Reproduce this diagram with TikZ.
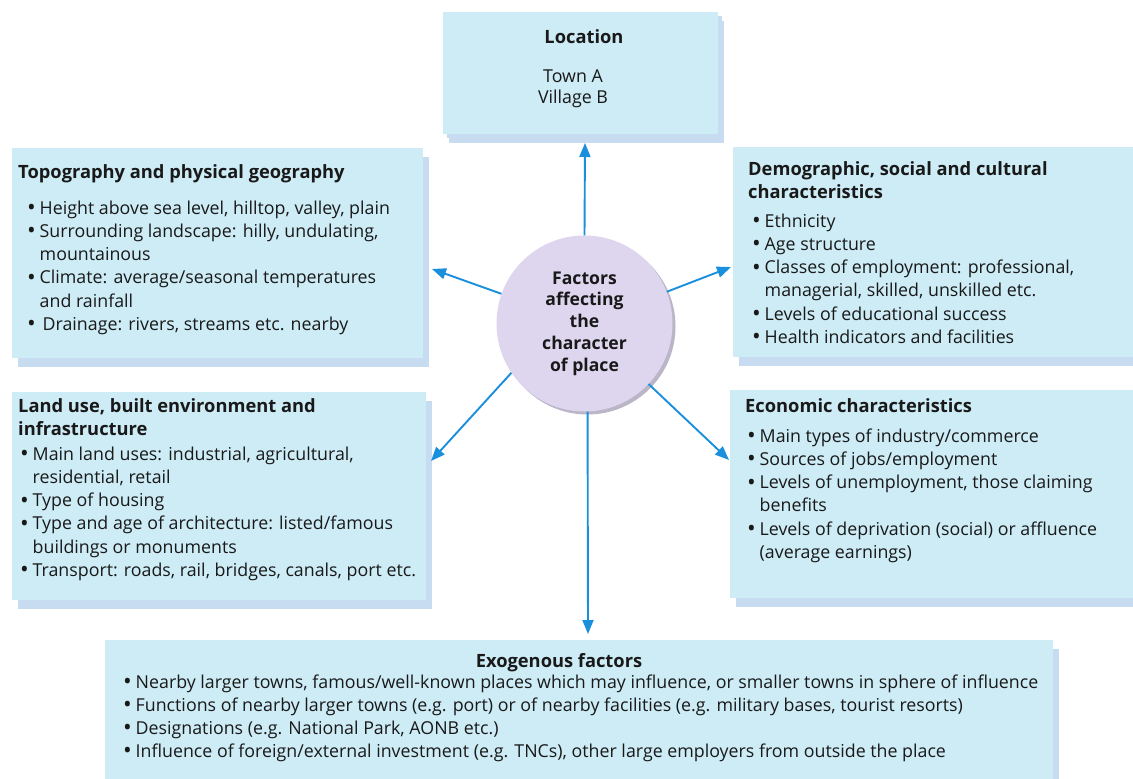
\documentclass[tikz,border=0pt]{standalone}
\usepackage{fontspec}
\setmainfont{Open Sans}
\usetikzlibrary{arrows.meta,shadows}

\definecolor{boxfill}{RGB}{205,236,246}
\definecolor{boxshade}{RGB}{200,220,241}
\definecolor{arrowblue}{RGB}{26,143,222}
\definecolor{discfill}{RGB}{221,214,238}
\definecolor{discshade}{RGB}{186,182,200}
\definecolor{ink}{RGB}{25,25,25}

% bullet with hanging indent for wrapped lines
\newcommand\bul{\makebox[12.5pt][l]{\raisebox{-1.4pt}{\scalebox{1.3}{\textbullet}}}}
\newcommand\ind{\hspace*{12.5pt}}
% fixed first-line height so that node tops sit 15pt above the first baseline
\newcommand\tp{\rule{0pt}{15pt}}

\begin{document}
\begin{tikzpicture}[x=1pt,y=-1pt,
  panel/.style={fill=boxfill, draw=none, rectangle, inner sep=0pt, anchor=north west,
    drop shadow={shadow xshift=6pt, shadow yshift=-9pt, fill=boxshade, opacity=1}},
  txt/.style={inner sep=0pt, anchor=north west, align=left, text=ink,
    font=\fontsize{17.8}{23.2}\selectfont},
  ttl/.style={inner sep=0pt, anchor=north west, align=left, text=ink,
    font=\bfseries\fontsize{18.3}{23}\selectfont},
  arr/.style={draw=arrowblue, line width=1.9pt, -{Triangle[length=14pt,width=11pt]}}
]
\useasboundingbox (0,0) rectangle (1133,779);
\fill[white] (0,0) rectangle (1133,779);

% panels
\node[panel, minimum width=275pt, minimum height=122pt,
  drop shadow={shadow xshift=4pt, shadow yshift=-4pt, fill=boxshade, opacity=1}] (loc) at (443,12) {};
\node[panel, minimum width=411pt, minimum height=210pt] (topo) at (12,148) {};
\node[panel, minimum width=410pt, minimum height=210pt] (demo) at (733,147) {};
\node[panel, minimum width=414pt, minimum height=208pt] (land) at (12,392) {};
\node[panel, minimum width=410pt, minimum height=208pt] (econ) at (730,390) {};
\node[panel, minimum width=948pt, minimum height=150pt] (exo) at (105,640) {};

% central disc
\node[circle, minimum size=176pt, inner sep=0pt, fill=discfill, align=center, text=ink,
  font=\bfseries\fontsize{17.6}{21.7}\selectfont,
  drop shadow={shadow xshift=3pt, shadow yshift=-3pt, fill=discshade, opacity=1}]
  (hub) at (584.5,323.5) {Factors\\affecting\\the\\character\\of place};

% arrows from the disc to the panels
\coordinate (a-up) at (585,143);
\coordinate (a-lu) at (432,269);
\coordinate (a-ru) at (731,267);
\coordinate (a-ld) at (431,461);
\coordinate (a-rd) at (729,460);
\coordinate (a-dn) at (588,634);
\draw[arr] (hub.north) -- (a-up);
\draw[arr] (hub) -- (a-lu);
\draw[arr] (hub) -- (a-ru);
\draw[arr] (hub.214.5) -- (a-ld);
\draw[arr] (hub) -- (a-rd);
\draw[arr] (hub.272) -- (a-dn);

% Location
\node[ttl, anchor=base] (loc-h) at (584,43) {Location};
\node[txt, anchor=north, align=center, font=\fontsize{17.8}{21}\selectfont] (loc-l) at (573,67)
  {\tp Town A\\Village B};

% Topography and physical geography
\node[ttl, anchor=base west] (topo-h) at (18,178) {Topography and physical geography};
\node[txt] (topo-l) at (27,199) {\tp\bul Height above sea level, hilltop, valley, plain\\
  \bul Surrounding landscape: hilly, undulating,\\
  \ind mountainous\\
  \bul Climate: average/seasonal temperatures\\
  \ind and rainfall\\
  \bul\hspace{3pt}Drainage: rivers, streams etc. nearby};

% Demographic, social and cultural characteristics
\node[ttl] (demo-h) at (748,160) {\tp Demographic, social and cultural\\characteristics};
\node[txt] (demo-l) at (752,212) {\tp\bul Ethnicity\\
  \bul Age structure\\
  \bul Classes of employment: professional,\\
  \ind managerial, skilled, unskilled etc.\\
  \bul Levels of educational success\\
  \bul Health indicators and facilities};

% Land use, built environment and infrastructure
\node[ttl] (land-h) at (18,397) {\tp Land use, built environment and\\infrastructure};
\node[txt] (land-l) at (20,445) {\tp\bul Main land uses: industrial, agricultural,\\
  \ind residential, retail\\
  \bul Type of housing\\
  \bul Type and age of architecture: listed/famous\\
  \ind buildings or monuments\\
  \bul Transport: roads, rail, bridges, canals, port etc.};

% Economic characteristics
\node[ttl, anchor=base west] (econ-h) at (745,412) {Economic characteristics};
\node[txt] (econ-l) at (747,427) {\tp\bul Main types of industry/commerce\\
  \bul Sources of jobs/employment\\
  \bul Levels of unemployment, those claiming\\
  \ind benefits\\
  \bul Levels of deprivation (social) or affluence\\
  \ind (average earnings)};

% Exogenous factors
\node[ttl, anchor=base] (exo-h) at (559,667) {Exogenous factors};
\node[txt, font=\fontsize{17.8}{23}\selectfont] (exo-l) at (123,673)
  {\tp\bul Nearby larger towns, famous/well-known places which may influence, or smaller towns in sphere of influence\\
  \bul Functions of nearby larger towns (e.g. port) or of nearby facilities (e.g. military bases, tourist resorts)\\
  \bul Designations (e.g. National Park, AONB etc.)\\
  \bul Influence of foreign/external investment (e.g. TNCs), other large employers from outside the place};
\end{tikzpicture}
\end{document}
